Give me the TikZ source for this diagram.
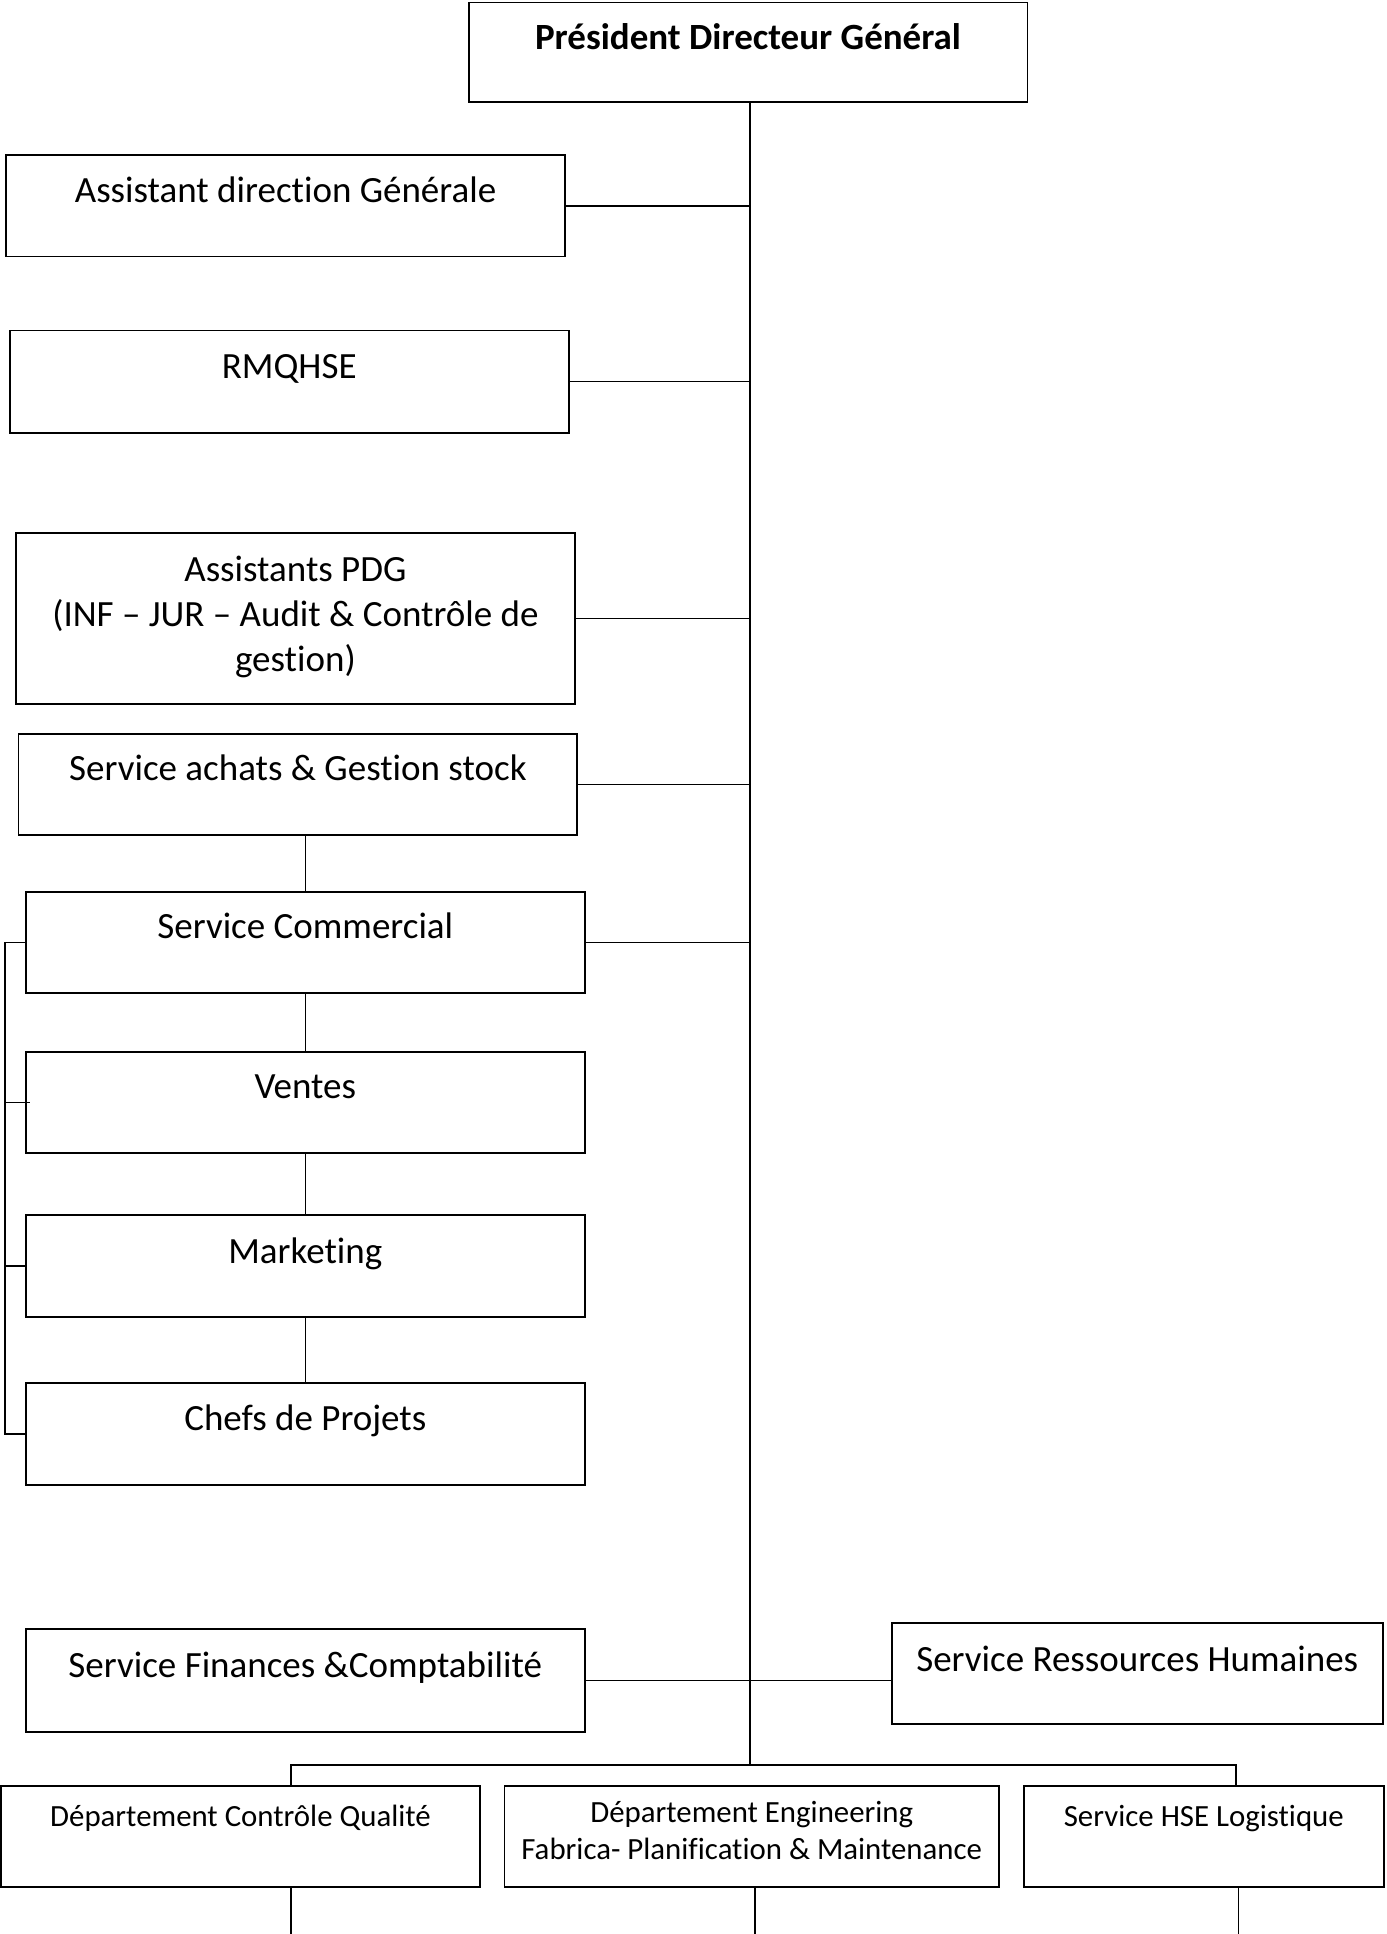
\documentclass[tikz,border=0pt]{standalone}
\usepackage{fontspec}
\setmainfont{Carlito}[Ligatures=NoCommon, RawFeature=-liga, RawFeature=-calt]
\begin{document}
\begin{tikzpicture}[x=1pt,y=-1pt,
  box/.style={draw, line width=1.5pt, inner sep=0pt, outer sep=0pt},
  link/.style={line width=1.2pt},
  txt/.style={inner sep=0pt, anchor=base, font=\fontsize{30}{36.5}\selectfont},
  txtsmall/.style={inner sep=0pt, anchor=base, font=\fontsize{25}{30}\selectfont}]
\useasboundingbox (0,0) rectangle (1124,1568);

% boxes
\node[box, minimum width=453, minimum height=81] (pdg)  at (606.5,42.5) {};
\node[box, minimum width=453, minimum height=82] (adg)  at (231.5,167) {};
\node[box, minimum width=453, minimum height=83] (rmq)  at (234.5,309.5) {};
\node[box, minimum width=453, minimum height=139] (apdg) at (239.5,501.5) {};
\node[box, minimum width=453, minimum height=82] (ach)  at (241.5,636) {};
\node[box, minimum width=453, minimum height=82] (com)  at (247.5,764) {};
\node[box, minimum width=453, minimum height=82] (ven)  at (247.5,894) {};
\node[box, minimum width=453, minimum height=83] (mkt)  at (247.5,1026.5) {};
\node[box, minimum width=453, minimum height=83] (chef) at (247.5,1162.5) {};
\node[box, minimum width=453, minimum height=83] (fin)  at (247.5,1362.5) {};
\node[box, minimum width=398, minimum height=82] (rh)   at (922,1357) {};
\node[box, minimum width=388, minimum height=82] (cq)   at (195,1489) {};
\node[box, minimum width=401, minimum height=82] (eng)  at (609.5,1489) {};
\node[box, minimum width=292, minimum height=82] (hse)  at (976,1489) {};

% labels
\node[txt] (pdgT) at (606.5,40) {\bfseries Président Directeur Général};
\node[txt] (adgT) at (231.5,164) {Assistant direction Générale};
\node[txt] (rmqT) at (234.5,307) {RMQHSE};
\node[txt, anchor=center, align=center] (apdgT) at (239.5,500.5)
  {Assistants PDG\\(INF – JUR – Audit \& Contrôle de\\gestion)};
\node[txt] (achT) at (241.5,633) {Service achats \& Gestion stock};
\node[txt] (comT) at (247.5,761) {Service Commercial};
\node[txt] (venT) at (247.5,891) {Ventes};
\node[txt] (mktT) at (247.5,1024) {Marketing};
\node[txt] (chefT) at (247.5,1160) {Chefs de Projets};
\node[txt] (finT) at (247.5,1360) {Service Finances \&Comptabilité};
\node[txt] (rhT) at (922,1355) {Service Ressources Humaines};
\node[txtsmall] (cqT) at (195,1481) {Département Contrôle Qualité};
\node[txtsmall, anchor=center, align=center] (engT) at (609.5,1484)
  {Département Engineering\\Fabrica- Planification \& Maintenance};
\node[txtsmall] (hseT) at (976,1481) {Service HSE Logistique};

% spine
\coordinate (top) at (608,83);
\coordinate (bot) at (608,1431);
\draw[link] (pdg.south -| top) -- (bot);

% branches to the spine
\draw[link] (adg.east) -- (adg.east -| top);
\draw[link] (rmq.east) -- (rmq.east -| top);
\draw[link] (apdg.east) -- (apdg.east -| top);
\draw[link] (ach.east) -- (ach.east -| top);
\draw[link] (com.east) -- (com.east -| top);
\draw[link] (fin.east) -- (fin.east -| rh.west);

% commercial chain
\draw[link] (ach.south -| com.north) -- (com.north);
\draw[link] (com.south) -- (ven.north);
\draw[link] (ven.south) -- (mkt.north);
\draw[link] (mkt.south) -- (chef.north);

% left bracket
\coordinate (brk) at (4,0);
\draw[link] (com.west) -- (com.west -| brk) -- (chef.west -| brk) -- (chef.west);
\draw[link] (ven.west -| brk) -- ([xshift=3pt]ven.west);
\draw[link] (mkt.west -| brk) -- (mkt.west);

% bottom bus
\coordinate (busL) at (236,1431);
\coordinate (busR) at (1002,1431);
\draw[link] (cq.north -| busL) -- (busL) -- (busR) -- (hse.north -| busR);

% lines leaving the bottom row
\coordinate (outL) at (236,1568);
\coordinate (outM) at (612,1568);
\coordinate (outR) at (1004,1568);
\draw[link] (cq.south -| outL) -- (outL);
\draw[link] (eng.south -| outM) -- (outM);
\draw[link] (hse.south -| outR) -- (outR);
\end{tikzpicture}
\end{document}
